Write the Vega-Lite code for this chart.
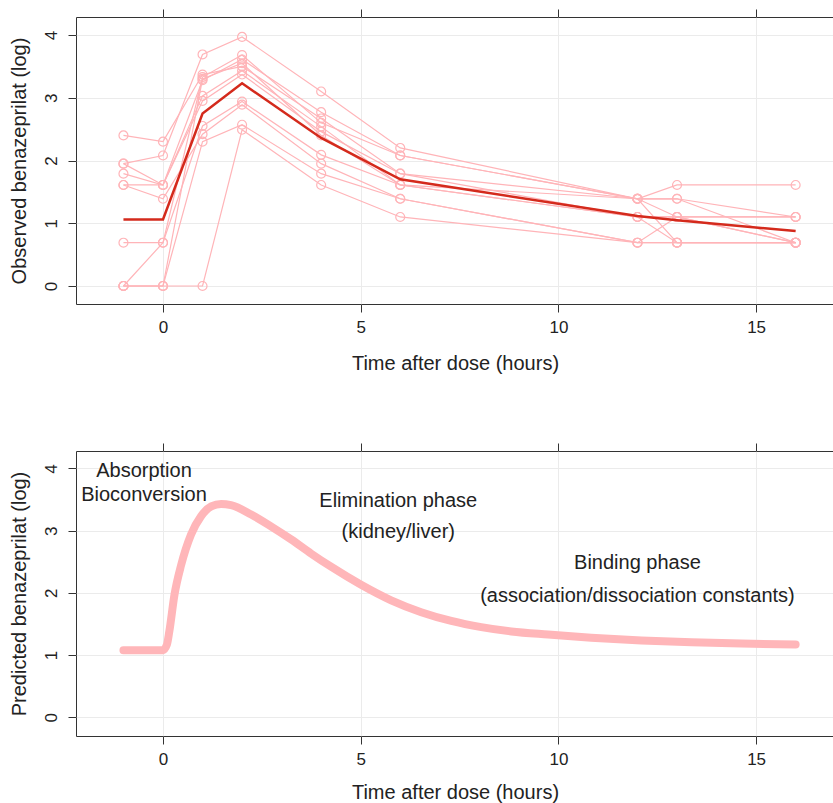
{
  "$schema": "https://vega.github.io/schema/vega-lite/v6.json",
  "autosize": {"type": "pad"},
  "padding": {"left": 8, "top": 8, "right": 0, "bottom": 0},
  "bounds": "flush",
  "spacing": 147,
  "background": "white",
  "datasets": {
    "subjects": [
      {"subject": "A", "time": -1, "value": 2.40}, {"subject": "A", "time": 0, "value": 2.30}, {"subject": "A", "time": 1, "value": 3.37}, {"subject": "A", "time": 2, "value": 3.50}, {"subject": "A", "time": 4, "value": 2.67}, {"subject": "A", "time": 6, "value": 1.79}, {"subject": "A", "time": 12, "value": 1.39}, {"subject": "A", "time": 13, "value": 0.69}, {"subject": "A", "time": 16, "value": 0.69},
      {"subject": "B", "time": -1, "value": 1.95}, {"subject": "B", "time": 0, "value": 2.08}, {"subject": "B", "time": 1, "value": 3.69}, {"subject": "B", "time": 2, "value": 3.97}, {"subject": "B", "time": 4, "value": 3.10}, {"subject": "B", "time": 6, "value": 2.20}, {"subject": "B", "time": 12, "value": 1.39}, {"subject": "B", "time": 13, "value": 1.61}, {"subject": "B", "time": 16, "value": 1.61},
      {"subject": "C", "time": -1, "value": 1.95}, {"subject": "C", "time": 0, "value": 1.61}, {"subject": "C", "time": 1, "value": 3.28}, {"subject": "C", "time": 2, "value": 3.61}, {"subject": "C", "time": 4, "value": 2.77}, {"subject": "C", "time": 6, "value": 2.08}, {"subject": "C", "time": 12, "value": 1.39}, {"subject": "C", "time": 13, "value": 1.39}, {"subject": "C", "time": 16, "value": 1.10},
      {"subject": "D", "time": -1, "value": 1.79}, {"subject": "D", "time": 0, "value": 1.61}, {"subject": "D", "time": 1, "value": 3.03}, {"subject": "D", "time": 2, "value": 3.43}, {"subject": "D", "time": 4, "value": 2.54}, {"subject": "D", "time": 6, "value": 1.61}, {"subject": "D", "time": 12, "value": 1.39}, {"subject": "D", "time": 13, "value": 1.10}, {"subject": "D", "time": 16, "value": 1.10},
      {"subject": "E", "time": -1, "value": 1.61}, {"subject": "E", "time": 0, "value": 1.61}, {"subject": "E", "time": 1, "value": 2.95}, {"subject": "E", "time": 2, "value": 3.37}, {"subject": "E", "time": 4, "value": 2.46}, {"subject": "E", "time": 6, "value": 1.79}, {"subject": "E", "time": 12, "value": 1.10}, {"subject": "E", "time": 13, "value": 1.10}, {"subject": "E", "time": 16, "value": 1.10},
      {"subject": "F", "time": -1, "value": 1.61}, {"subject": "F", "time": 0, "value": 1.39}, {"subject": "F", "time": 1, "value": 2.42}, {"subject": "F", "time": 2, "value": 2.89}, {"subject": "F", "time": 4, "value": 1.95}, {"subject": "F", "time": 6, "value": 1.39}, {"subject": "F", "time": 12, "value": 0.69}, {"subject": "F", "time": 13, "value": 1.10}, {"subject": "F", "time": 16, "value": 0.69},
      {"subject": "G", "time": -1, "value": 0.69}, {"subject": "G", "time": 0, "value": 0.69}, {"subject": "G", "time": 1, "value": 2.55}, {"subject": "G", "time": 2, "value": 2.94}, {"subject": "G", "time": 4, "value": 2.09}, {"subject": "G", "time": 6, "value": 1.61}, {"subject": "G", "time": 12, "value": 1.10}, {"subject": "G", "time": 13, "value": 1.10}, {"subject": "G", "time": 16, "value": 0.69},
      {"subject": "H", "time": -1, "value": 0}, {"subject": "H", "time": 0, "value": 0.69}, {"subject": "H", "time": 1, "value": 3.33}, {"subject": "H", "time": 2, "value": 3.68}, {"subject": "H", "time": 4, "value": 2.60}, {"subject": "H", "time": 6, "value": 2.08}, {"subject": "H", "time": 12, "value": 1.39}, {"subject": "H", "time": 13, "value": 1.39}, {"subject": "H", "time": 16, "value": 0.69},
      {"subject": "I", "time": -1, "value": 0}, {"subject": "I", "time": 0, "value": 0}, {"subject": "I", "time": 1, "value": 3.30}, {"subject": "I", "time": 2, "value": 3.55}, {"subject": "I", "time": 4, "value": 2.40}, {"subject": "I", "time": 6, "value": 1.61}, {"subject": "I", "time": 12, "value": 1.10}, {"subject": "I", "time": 13, "value": 0.69}, {"subject": "I", "time": 16, "value": 0.69},
      {"subject": "J", "time": -1, "value": 0}, {"subject": "J", "time": 0, "value": 0}, {"subject": "J", "time": 1, "value": 2.30}, {"subject": "J", "time": 2, "value": 2.57}, {"subject": "J", "time": 4, "value": 1.79}, {"subject": "J", "time": 6, "value": 1.39}, {"subject": "J", "time": 12, "value": 0.69}, {"subject": "J", "time": 13, "value": 0.69}, {"subject": "J", "time": 16, "value": 0.69},
      {"subject": "K", "time": -1, "value": 0}, {"subject": "K", "time": 0, "value": 0}, {"subject": "K", "time": 1, "value": 0}, {"subject": "K", "time": 2, "value": 2.49}, {"subject": "K", "time": 4, "value": 1.61}, {"subject": "K", "time": 6, "value": 1.10}, {"subject": "K", "time": 12, "value": 0.69}, {"subject": "K", "time": 13, "value": 0.69}, {"subject": "K", "time": 16, "value": 0.69}
    ],
    "mean": [
      {"time": -1, "value": 1.06}, {"time": 0, "value": 1.06}, {"time": 1, "value": 2.75}, {"time": 2, "value": 3.23}, {"time": 4, "value": 2.36}, {"time": 6, "value": 1.70}, {"time": 12, "value": 1.115}, {"time": 13, "value": 1.047}, {"time": 16, "value": 0.876}
    ],
    "curve": [
      {"time": -1, "value": 1.08}, {"time": 0, "value": 1.08}, {"time": 0.1, "value": 1.17}, {"time": 0.16, "value": 1.38}, {"time": 0.29, "value": 1.97}, {"time": 0.46, "value": 2.45}, {"time": 0.71, "value": 2.94}, {"time": 0.96, "value": 3.23}, {"time": 1.22, "value": 3.39}, {"time": 1.47, "value": 3.43}, {"time": 1.72, "value": 3.41}, {"time": 2.23, "value": 3.26}, {"time": 2.73, "value": 3.07}, {"time": 3.24, "value": 2.86}, {"time": 3.75, "value": 2.63}, {"time": 4.25, "value": 2.42}, {"time": 5.01, "value": 2.13}, {"time": 5.77, "value": 1.88}, {"time": 6.53, "value": 1.69}, {"time": 7.29, "value": 1.55}, {"time": 8.05, "value": 1.45}, {"time": 8.81, "value": 1.38}, {"time": 9.74, "value": 1.33}, {"time": 10.83, "value": 1.28}, {"time": 12.1, "value": 1.235}, {"time": 13.37, "value": 1.205}, {"time": 14.63, "value": 1.185}, {"time": 16, "value": 1.17}
    ],
    "notes": [
      {"time": -0.48, "value": 3.87, "label": "Absorption"},
      {"time": -0.48, "value": 3.47, "label": "Bioconversion"},
      {"time": 5.95, "value": 3.38, "label": "Elimination phase"},
      {"time": 5.95, "value": 2.88, "label": "(kidney/liver)"},
      {"time": 12.0, "value": 2.38, "label": "Binding phase"},
      {"time": 12.0, "value": 1.86, "label": "(association/dissociation constants)"}
    ]
  },
  "vconcat": [
    {
      "width": 758,
      "height": 287,
      "resolve": {"axis": {"x": "independent"}},
      "encoding": {
        "y": {"field": "value", "type": "quantitative", "scale": {"domain": [-0.287, 4.287], "nice": false, "zero": false},
              "axis": {"values": [0, 1, 2, 3, 4], "title": "Observed benazeprilat (log)", "labelAngle": -90, "labelAlign": "center", "labelBaseline": "bottom", "labelPadding": 8, "titlePadding": 13}}
      },
      "layer": [
        {
          "data": {"name": "subjects"},
          "mark": {"type": "line", "color": "#FFB4B8", "strokeWidth": 1.2},
          "encoding": {
            "x": {"field": "time", "type": "quantitative", "scale": {"domain": [-2.2, 16.97], "nice": false, "zero": false},
                  "axis": {"orient": "bottom", "values": [0, 5, 10, 15], "title": "Time after dose (hours)", "labelPadding": 7, "titlePadding": 18}},
            "detail": {"field": "subject", "type": "nominal"}
          }
        },
        {
          "data": {"name": "subjects"},
          "mark": {"type": "point", "shape": "circle", "filled": false, "size": 80, "color": "#FFB4B8", "strokeWidth": 1.2, "opacity": 1},
          "encoding": {
            "x": {"field": "time", "type": "quantitative", "axis": null}
          }
        },
        {
          "data": {"name": "mean"},
          "mark": {"type": "line", "color": "#D42A1C", "strokeWidth": 2.5},
          "encoding": {
            "x": {"field": "time", "type": "quantitative", "axis": null}
          }
        },
        {
          "data": {"name": "mean"},
          "mark": {"type": "point", "opacity": 0},
          "encoding": {
            "x": {"field": "time", "type": "quantitative", "axis": {"orient": "top", "values": [0, 5, 10, 15], "labels": false, "title": null, "grid": false}}
          }
        }
      ]
    },
    {
      "width": 758,
      "height": 285,
      "resolve": {"axis": {"x": "independent"}},
      "encoding": {
        "y": {"field": "value", "type": "quantitative", "scale": {"domain": [-0.3, 4.28], "nice": false, "zero": false},
              "axis": {"values": [0, 1, 2, 3, 4], "title": "Predicted benazeprilat (log)", "labelAngle": -90, "labelAlign": "center", "labelBaseline": "bottom", "labelPadding": 8, "titlePadding": 13}}
      },
      "layer": [
        {
          "data": {"name": "curve"},
          "mark": {"type": "line", "color": "#FFB6B9", "strokeWidth": 8, "strokeCap": "round", "strokeJoin": "round", "interpolate": "monotone"},
          "encoding": {
            "x": {"field": "time", "type": "quantitative", "scale": {"domain": [-2.2, 16.97], "nice": false, "zero": false},
                  "axis": {"orient": "bottom", "values": [0, 5, 10, 15], "title": "Time after dose (hours)", "labelPadding": 7, "titlePadding": 15}}
          }
        },
        {
          "data": {"name": "notes"},
          "mark": {"type": "text", "fontSize": 20, "color": "#222222", "align": "center", "baseline": "alphabetic"},
          "encoding": {
            "x": {"field": "time", "type": "quantitative", "axis": null},
            "text": {"field": "label", "type": "nominal"}
          }
        },
        {
          "data": {"name": "curve"},
          "mark": {"type": "point", "opacity": 0},
          "encoding": {
            "x": {"field": "time", "type": "quantitative", "axis": {"orient": "top", "values": [0, 5, 10, 15], "labels": false, "title": null, "grid": false}}
          }
        }
      ]
    }
  ],
  "config": {
    "font": "Liberation Sans",
    "view": {"stroke": "#333333", "strokeWidth": 1},
    "axis": {"domain": false, "tickColor": "#333333", "tickSize": 8, "tickWidth": 1, "labelFontSize": 17, "labelColor": "#222222", "titleFontSize": 20, "titleFontWeight": "normal", "titleColor": "#222222", "gridColor": "#EBEBEB", "gridWidth": 1}
  }
}
